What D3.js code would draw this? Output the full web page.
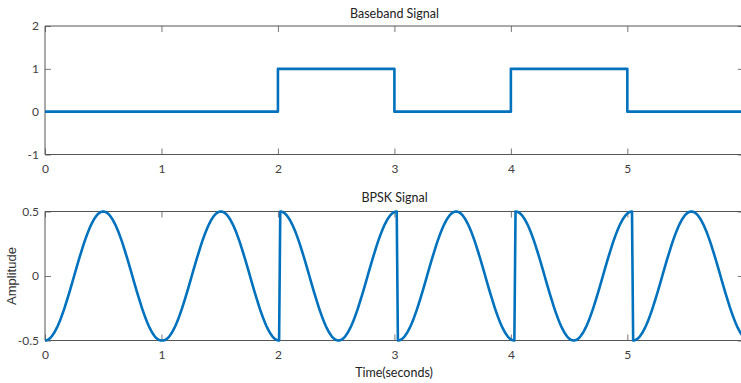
<!DOCTYPE html>
<html>
<head>
<meta charset="utf-8">
<script src="https://cdn.jsdelivr.net/npm/d3@7"></script>
<style>
  html, body { margin: 0; padding: 0; background: #fff; overflow: hidden; }
  svg { display: block; }
  .tick text { font-family: Lato, "Open Sans", sans-serif; font-size: 12px; fill: #404040; }
</style>
</head>
<body>
<svg id="chart" width="741" height="383"></svg>
<script>
// ---- data ----
const bits = [0, 0, 1, 0, 1, 0];            // baseband bit per 1-second slot
const samplesPerBit = 101;                   // samples drawn per bit (0:0.01:1)
const sampleStep = 0.01;                     // seconds per sample on the x axis
const carrierAmp = 0.5;
const carrierFreq = 1;
const xTicks = [0, 1, 2, 3, 4, 5];
const xTickLabels = ["0", "1", "2", "3", "4", "5"];
const topYTicks = [-1, 0, 1, 2];
const topYTickLabels = ["-1", "0", "1", "2"];
const bottomYTicks = [-0.5, 0, 0.5];
const bottomYTickLabels = ["-0.5", "0", "0.5"];
const topTitle = "Baseband Signal";
const bottomTitle = "BPSK Signal";
const xLabel = "Time(seconds)";
const yLabel = "Amplitude";

// baseband step points
const baseband = [];
bits.forEach((b, i) => { baseband.push([i, b]); baseband.push([i + 1, b]); });

// BPSK samples (each bit occupies samplesPerBit samples concatenated)
const bpsk = [];
bits.forEach((b, i) => {
  for (let k = 0; k < samplesPerBit; k++) {
    const tl = k * sampleStep;
    const idx = i * samplesPerBit + k;
    bpsk.push([idx * sampleStep, (b ? 1 : -1) * carrierAmp * Math.cos(2 * Math.PI * carrierFreq * tl)]);
  }
});

const svg = d3.select("#chart");
const blue = "#0072BD";
const axisColor = "#555";
const fontTitle = "Lato, 'Open Sans', sans-serif";

const x = d3.scaleLinear().domain([0, 6]).range([45, 743.8]);

function panel(yDomain, yRange, yTicks, yLabels, title, titleY, data, clipId) {
  const y = d3.scaleLinear().domain(yDomain).range(yRange);
  const g = svg.append("g");
  const [x0, x1] = x.range();
  const [yb, yt] = yRange;

  svg.append("clipPath").attr("id", clipId)
    .append("rect").attr("x", x0).attr("y", yt - 3).attr("width", x1 - x0).attr("height", yb - yt + 6);

  const xb = g.append("g").attr("transform", `translate(0,${yb})`)
    .call(d3.axisBottom(x).tickValues(xTicks).tickSizeInner(-6).tickSizeOuter(0).tickPadding(10)
      .tickFormat((d, i) => xTickLabels[i]));
  xb.select(".domain").remove();
  xb.selectAll("line").attr("stroke", "#777");
  const xt = g.append("g").attr("transform", `translate(0,${yt})`)
    .call(d3.axisTop(x).tickValues(xTicks).tickSize(-6).tickFormat(""));
  xt.select(".domain").remove();
  xt.selectAll("line").attr("stroke", "#777");
  const yl = g.append("g").attr("transform", `translate(${x0},0)`)
    .call(d3.axisLeft(y).tickValues(yTicks).tickSizeInner(-6).tickSizeOuter(0).tickPadding(6)
      .tickFormat((d, i) => yLabels[i]));
  yl.select(".domain").remove();
  yl.selectAll("line").attr("stroke", "#777");
  const yr = g.append("g").attr("transform", `translate(${x1},0)`)
    .call(d3.axisRight(y).tickValues(yTicks).tickSize(-6).tickFormat(""));
  yr.select(".domain").remove();
  yr.selectAll("line").attr("stroke", "#777");

  g.append("line").attr("x1", x0).attr("x2", x1).attr("y1", yt).attr("y2", yt).attr("stroke", axisColor).attr("stroke-width", 1);
  g.append("line").attr("x1", x0).attr("x2", x1).attr("y1", yb).attr("y2", yb).attr("stroke", axisColor).attr("stroke-width", 1);
  g.append("line").attr("x1", x0).attr("x2", x0).attr("y1", yt).attr("y2", yb).attr("stroke", axisColor).attr("stroke-width", 1);

  g.append("path").datum(data)
    .attr("clip-path", `url(#${clipId})`)
    .attr("fill", "none").attr("stroke", blue).attr("stroke-width", 2.6)
    .attr("stroke-linejoin", "round")
    .attr("d", d3.line().x(d => x(d[0])).y(d => y(d[1])));

  svg.append("text").attr("x", 394.5).attr("y", titleY).attr("text-anchor", "middle")
    .attr("font-family", fontTitle).attr("font-size", 12.5).attr("fill", "#222").text(title);
  return y;
}

panel([-1, 2], [154.5, 26], topYTicks, topYTickLabels, topTitle, 18, baseband, "clipTop");
panel([-0.5, 0.5], [340.5, 211.5], bottomYTicks, bottomYTickLabels, bottomTitle, 202, bpsk, "clipBot");

svg.append("text").attr("x", 394).attr("y", 377).attr("text-anchor", "middle")
  .attr("font-family", fontTitle).attr("font-size", 12.5).attr("fill", "#222").text(xLabel);
svg.append("text").attr("transform", "translate(16,276) rotate(-90)").attr("text-anchor", "middle")
  .attr("font-family", "'Liberation Sans', Arial, sans-serif").attr("font-size", 13).attr("fill", "#333").text(yLabel);
</script>
</body>
</html>
